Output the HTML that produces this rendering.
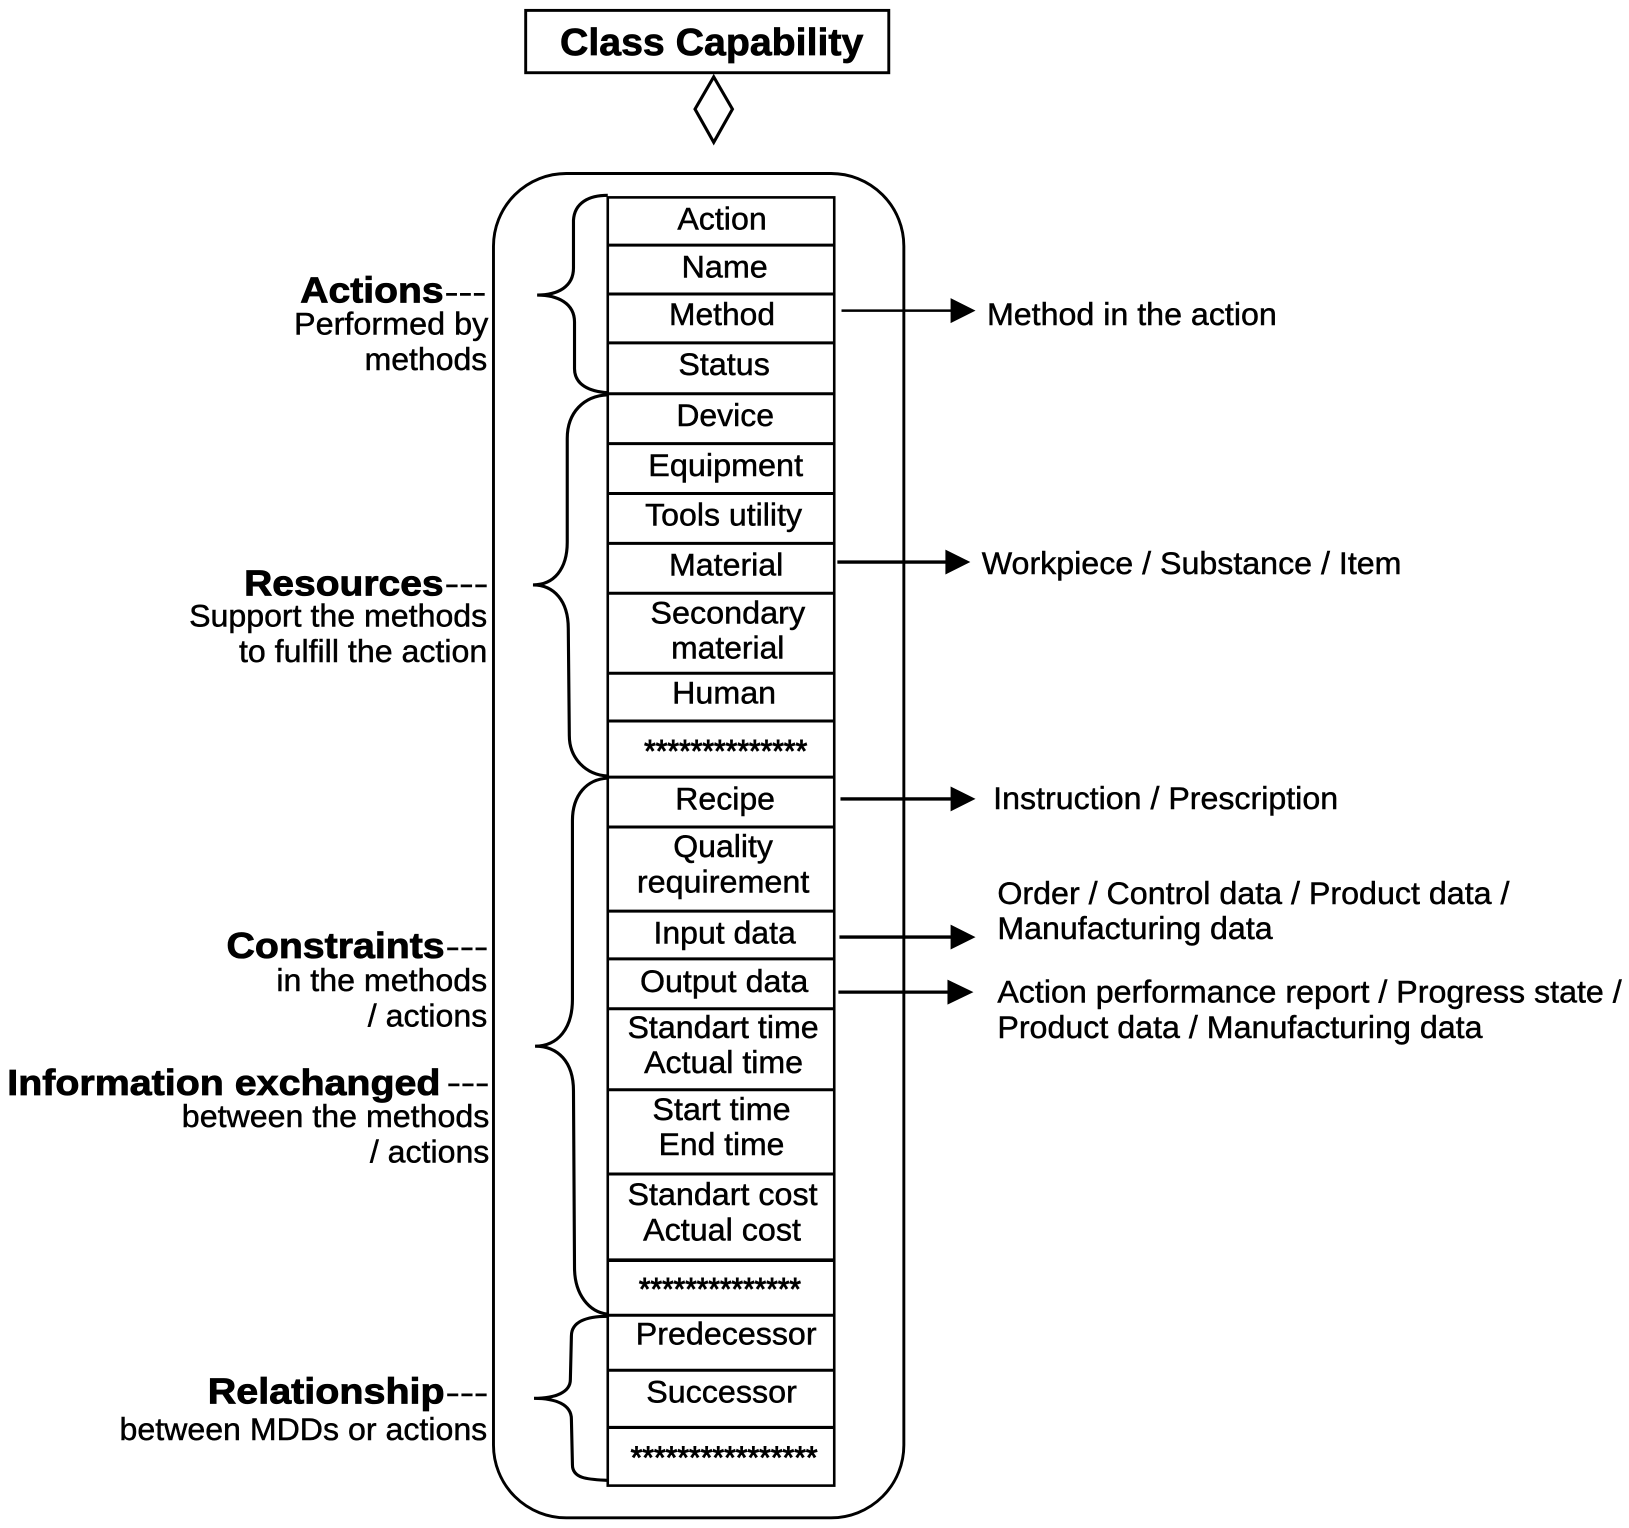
<!DOCTYPE html>
<html><head><meta charset="utf-8"><style>
html,body{margin:0;padding:0;background:#fff}
svg{display:block}
text{font-family:"Liberation Sans",sans-serif;fill:#000;stroke:#000;stroke-width:.45}
.b{font-weight:bold;font-size:35px}
.r{font-size:30.5px}
.st{stroke-width:.9}
</style></head><body>
<svg xmlns="http://www.w3.org/2000/svg" width="1629" height="1528" viewBox="0 0 1568 1470.8">
<rect width="1568" height="1471" fill="#fff"/>
<rect x="506" y="10" width="349.5" height="60" fill="none" stroke="#000" stroke-width="2.8"/>
<text x="539" y="53" style="font-weight:bold;font-size:37px;stroke-width:.7" textLength="292" lengthAdjust="spacingAndGlyphs">Class Capability</text>
<polygon points="687,74 705,105 687,137 669,105" fill="none" stroke="#000" stroke-width="3"/>
<rect x="475" y="167" width="395" height="1294" rx="70" ry="70" fill="none" stroke="#000" stroke-width="2.8"/>

<g fill="none" stroke="#000">
<rect x="585" y="190" width="218" height="1240" stroke-width="2.5"/>
<g stroke-width="2.9">
<line x1="585" x2="803" y1="236" y2="236"/>
<line x1="585" x2="803" y1="283" y2="283"/>
<line x1="585" x2="803" y1="330" y2="330"/>
<line x1="585" x2="803" y1="379" y2="379"/>
<line x1="585" x2="803" y1="427" y2="427"/>
<line x1="585" x2="803" y1="475" y2="475"/>
<line x1="585" x2="803" y1="523" y2="523"/>
<line x1="585" x2="803" y1="571" y2="571"/>
<line x1="585" x2="803" y1="648" y2="648"/>
<line x1="585" x2="803" y1="694" y2="694"/>
<line x1="585" x2="803" y1="748" y2="748"/>
<line x1="585" x2="803" y1="796" y2="796"/>
<line x1="585" x2="803" y1="877" y2="877"/>
<line x1="585" x2="803" y1="923" y2="923"/>
<line x1="585" x2="803" y1="971" y2="971"/>
<line x1="585" x2="803" y1="1049" y2="1049"/>
<line x1="585" x2="803" y1="1130" y2="1130"/>
<line x1="585" x2="803" y1="1213" y2="1213" stroke-width="3.4"/>
<line x1="585" x2="803" y1="1266" y2="1266"/>
<line x1="585" x2="803" y1="1319" y2="1319"/>
<line x1="585" x2="803" y1="1374" y2="1374"/>
</g>
<g stroke-width="3">
<path d="M585,188 C567,188 553,195 552,212 L552,258 C552,276 537,284 517,284 C537,284 553,292 553,310 L553,355 C553,370 567,377 585,378"/>
<path d="M585,380 C562,381 546,397 546,422 L546,522 C546,548 533,563 513,563 C533,563 547,578 547,605 L548,708 C548,730 564,746 585,747"/>
<path d="M585,749 C565,750 551,765 551,790 L551,962 C551,990 537,1007 515,1007 C537,1007 552,1022 552,1050 L553,1220 C553,1246 567,1263 585,1265"/>
<path d="M585,1267 C565,1267 550,1272 550,1286 L549,1328 C549,1340 535,1346 514,1346 C535,1346 550,1352 550,1366 L551,1410 C551,1424 568,1424 585,1425"/>
</g>
<line x1="810" x2="918" y1="299" y2="299" stroke-width="2.4"/>
<line x1="806" x2="912" y1="541" y2="541" stroke-width="3.2"/>
<line x1="809" x2="918" y1="769" y2="769" stroke-width="3.2"/>
<line x1="808" x2="918" y1="902" y2="902" stroke-width="3.2"/>
<line x1="807" x2="915" y1="955" y2="955" stroke-width="3.2"/>
</g>
<g fill="#000">
<polygon points="915,287 939,299 915,311"/>
<polygon points="910,529 934,541 910,553"/>
<polygon points="915,757 939,769 915,781"/>
<polygon points="915,890 939,902 915,914"/>
<polygon points="912,943 937,955 912,967"/>
</g>

<g class="r">
<g transform="translate(0,-1)">
<text x="652" y="222" textLength="86" lengthAdjust="spacingAndGlyphs">Action</text>
<text x="656" y="268" textLength="83" lengthAdjust="spacingAndGlyphs">Name</text>
<text x="644" y="314" textLength="102" lengthAdjust="spacingAndGlyphs">Method</text>
<text x="653" y="362" textLength="88" lengthAdjust="spacingAndGlyphs">Status</text>
<text x="651" y="411" textLength="94" lengthAdjust="spacingAndGlyphs">Device</text>
<text x="624" y="459" textLength="149" lengthAdjust="spacingAndGlyphs">Equipment</text>
<text x="621" y="507" textLength="151" lengthAdjust="spacingAndGlyphs">Tools utility</text>
<text x="644" y="555" textLength="110" lengthAdjust="spacingAndGlyphs">Material</text>
<text x="626" y="601" textLength="149" lengthAdjust="spacingAndGlyphs">Secondary</text>
<text x="646" y="635" textLength="109" lengthAdjust="spacingAndGlyphs">material</text>
<text x="647" y="678" textLength="100" lengthAdjust="spacingAndGlyphs">Human</text>
<text x="650" y="780" textLength="96" lengthAdjust="spacingAndGlyphs">Recipe</text>
<text x="648" y="826" textLength="96" lengthAdjust="spacingAndGlyphs">Quality</text>
<text x="613" y="860" textLength="166" lengthAdjust="spacingAndGlyphs">requirement</text>
<text x="629" y="909" textLength="137" lengthAdjust="spacingAndGlyphs">Input data</text>
</g>
<text x="616" y="955" textLength="162" lengthAdjust="spacingAndGlyphs">Output data</text>
<text x="604" y="999" textLength="184" lengthAdjust="spacingAndGlyphs">Standart time</text>
<text x="620" y="1033" textLength="153" lengthAdjust="spacingAndGlyphs">Actual time</text>
<text x="628" y="1078" textLength="133" lengthAdjust="spacingAndGlyphs">Start time</text>
<text x="634" y="1112" textLength="121" lengthAdjust="spacingAndGlyphs">End time</text>
<text x="604" y="1160" textLength="183" lengthAdjust="spacingAndGlyphs">Standart cost</text>
<text x="619" y="1194" textLength="152" lengthAdjust="spacingAndGlyphs">Actual cost</text>
<text x="612" y="1294" textLength="174" lengthAdjust="spacingAndGlyphs">Predecessor</text>
<text x="622" y="1350" textLength="145" lengthAdjust="spacingAndGlyphs">Successor</text>
<text class="st" x="620" y="733" textLength="157" lengthAdjust="spacingAndGlyphs">**************</text>
<text class="st" x="615" y="1251" textLength="156" lengthAdjust="spacingAndGlyphs">**************</text>
<text class="st" x="607" y="1413" textLength="180" lengthAdjust="spacingAndGlyphs">****************</text>

<text x="283" y="322" textLength="187" lengthAdjust="spacingAndGlyphs">Performed by</text>
<text x="351" y="356" textLength="118" lengthAdjust="spacingAndGlyphs">methods</text>
<text x="182" y="603" textLength="287" lengthAdjust="spacingAndGlyphs">Support the methods</text>
<text x="230" y="637" textLength="239" lengthAdjust="spacingAndGlyphs">to fulfill the action</text>
<text x="266" y="954" textLength="203" lengthAdjust="spacingAndGlyphs">in the methods</text>
<text x="354" y="988" textLength="115" lengthAdjust="spacingAndGlyphs">/ actions</text>
<text x="175" y="1085" textLength="296" lengthAdjust="spacingAndGlyphs">between the methods</text>
<text x="356" y="1119" textLength="115" lengthAdjust="spacingAndGlyphs">/ actions</text>
<text x="115" y="1386" textLength="354" lengthAdjust="spacingAndGlyphs">between MDDs or actions</text>

<text x="950" y="313" textLength="279" lengthAdjust="spacingAndGlyphs">Method in the action</text>
<text x="945" y="552.5" textLength="404" lengthAdjust="spacingAndGlyphs">Workpiece / Substance / Item</text>
<text x="956" y="778.5" textLength="332" lengthAdjust="spacingAndGlyphs">Instruction / Prescription</text>
<text x="960" y="870" textLength="493" lengthAdjust="spacingAndGlyphs">Order / Control data / Product data /</text>
<text x="960" y="904" textLength="265" lengthAdjust="spacingAndGlyphs">Manufacturing data</text>
<text x="960" y="965" textLength="601" lengthAdjust="spacingAndGlyphs">Action performance report / Progress state /</text>
<text x="960" y="999" textLength="467" lengthAdjust="spacingAndGlyphs">Product data / Manufacturing data</text>
</g>

<g class="b" style="stroke-width:.8">
<text style="stroke-width:.8" x="289" y="291" textLength="138" lengthAdjust="spacingAndGlyphs">Actions</text>
<text style="stroke-width:.8" x="235" y="573" textLength="192" lengthAdjust="spacingAndGlyphs">Resources</text>
<text style="stroke-width:.8" x="218" y="922" textLength="210" lengthAdjust="spacingAndGlyphs">Constraints</text>
<text style="stroke-width:.8" x="7" y="1054" textLength="417" lengthAdjust="spacingAndGlyphs">Information exchanged</text>
<text style="stroke-width:.8" x="200" y="1351" textLength="228" lengthAdjust="spacingAndGlyphs">Relationship</text>
</g>
<g style="font-size:28px">
<text x="428" y="290.5" textLength="40" lengthAdjust="spacingAndGlyphs">---</text>
<text x="428" y="571.5" textLength="42" lengthAdjust="spacingAndGlyphs">---</text>
<text x="429" y="920.5" textLength="41" lengthAdjust="spacingAndGlyphs">---</text>
<text x="430" y="1051.5" textLength="41" lengthAdjust="spacingAndGlyphs">---</text>
<text x="429" y="1350" textLength="41" lengthAdjust="spacingAndGlyphs">---</text>
</g>
</svg>
</body></html>
